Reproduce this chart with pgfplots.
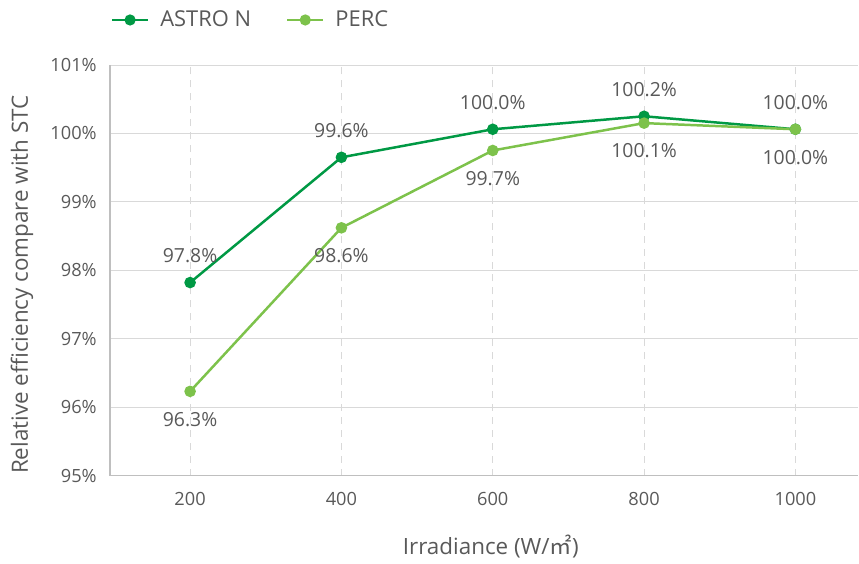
\documentclass[border=0pt]{standalone}
\usepackage{pgfplots}
\pgfplotsset{compat=1.18}
\usepackage{fontspec}
\setmainfont{Open Sans}
\newfontfamily\cjk{Noto Sans CJK SC}
\definecolor{astro}{HTML}{009944}
\definecolor{perc}{HTML}{7DC24B}
\definecolor{txt}{HTML}{595959}
\definecolor{gridc}{HTML}{D9D9D9}
\definecolor{axc}{HTML}{BFBFBF}

\begin{document}
\begin{tikzpicture}
\fontsize{18}{22}\selectfont
\path (-110bp,-83bp) rectangle (749bp,476bp);
\begin{axis}[
    at={(0,0)}, anchor=south west,
    scale only axis, width=749bp, height=411bp,
    xmin=94, xmax=1083, ymin=95, ymax=101,
    xtick={200,400,600,800,1000},
    ytick={95,96,97,98,99,100,101},
    yticklabel={\pgfmathprintnumber{\tick}\%},
    /pgf/number format/assume math mode=true,
    /pgf/number format/1000 sep={},
    axis x line*=bottom, axis y line*=left,
    axis line style={axc, line width=1.6pt, -},
    major tick length=0pt,
    xmajorgrids, ymajorgrids,
    x grid style={gridc, line width=0.8pt, dash pattern=on 7pt off 6pt},
    y grid style={gridc, line width=0.8pt},
    tick label style={text=txt, font=\fontsize{18.3}{22}\selectfont},
    xticklabel style={anchor=base, yshift=-30bp},
    yticklabel style={anchor=east, inner xsep=0pt, xshift=-13bp},
    xlabel={Irradiance (W/{\cjk ㎡})},
    ylabel={Relative efficiency compare with STC},
    label style={text=txt, font=\fontsize{22.5}{26}\selectfont},
    xlabel style={at={(rel axis cs:0.509,0)}, anchor=base, yshift=-79bp},
    ylabel style={at={(rel axis cs:0,0.465)}, anchor=base, yshift=82bp},
    clip=false,
    legend columns=2,
    legend style={at={(0.001,1.1095)}, anchor=west, draw=none, fill=none,
        text=txt, font=\fontsize{22}{26}\selectfont, inner sep=0pt,
        nodes={inner xsep=0pt},
        /tikz/every odd column/.append style={column sep=11bp},
        /tikz/every even column/.append style={column sep=35bp}},
    legend image code/.code={
        \draw[#1, mark=none] (0bp,0bp) -- (36bp,0bp);
        \fill[#1] (18bp,0bp) circle (4.3bp);
    },
    nodes near coords,
    point meta=explicit symbolic,
    every node near coord/.append style={text=txt, font=\fontsize{19.5}{22}\selectfont},
]
\addplot[astro, line width=2.5pt, mark=*, mark size=4.5bp,
    every node near coord/.append style={anchor=center, yshift=27bp}]
    coordinates {
    (200,97.82) [97.8\%]
    (400,99.65) [99.6\%]
    (600,100.06) [100.0\%]
    (800,100.25) [100.2\%]
    (1000,100.06) [100.0\%]
};
\addlegendentry{ASTRO N}
\addplot[perc, line width=2.5pt, mark=*, mark size=4.5bp,
    every node near coord/.append style={anchor=center, yshift=-28bp}]
    coordinates {
    (200,96.23) [96.3\%]
    (400,98.62) [98.6\%]
    (600,99.75) [99.7\%]
    (800,100.15) [100.1\%]
    (1000,100.06) [100.0\%]
};
\addlegendentry{PERC}
\end{axis}
\end{tikzpicture}
\end{document}
